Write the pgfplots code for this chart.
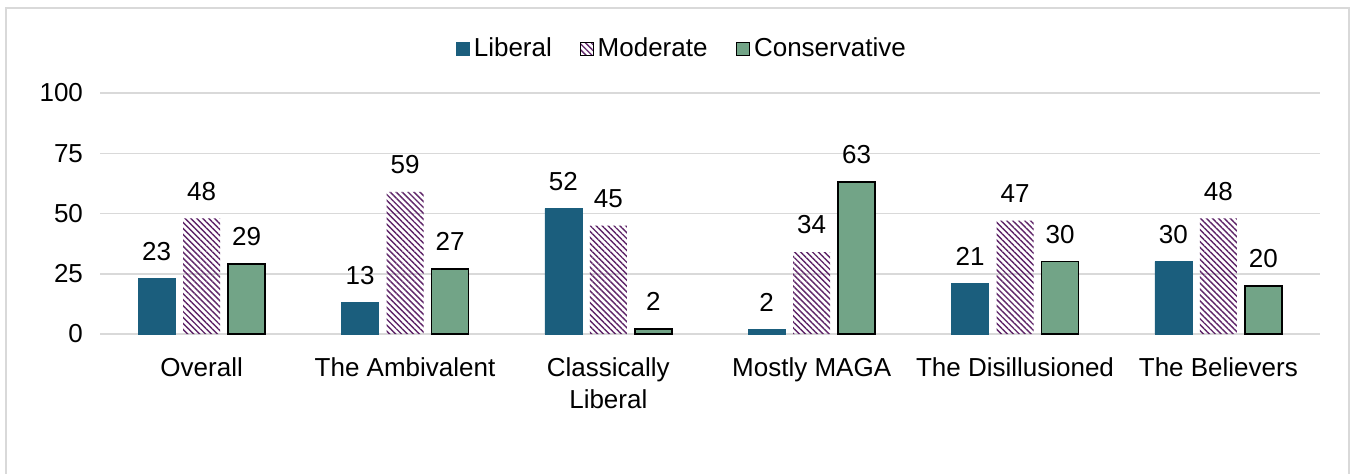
\documentclass[border=0pt]{standalone}
\usepackage{pgfplots}
\pgfplotsset{compat=1.18}
\usepackage{fontspec}
\setmainfont{Liberation Sans}
\usetikzlibrary{patterns.meta}
\definecolor{libc}{HTML}{1B5E7D}
\definecolor{modc}{HTML}{5E2468}
\definecolor{conc}{HTML}{72A487}
\definecolor{gridc}{HTML}{D9D9D9}
\begin{document}
\begin{tikzpicture}
\useasboundingbox (0,0) rectangle (676pt,-236.5pt);
\draw[gridc, line width=1pt] (3pt,-4pt) rectangle (674.5pt,-260pt);
\begin{axis}[
  at={(50pt,-167pt)}, anchor=south west,
  scale only axis, width=610pt, height=120.5pt,
  ybar,
  xmin=-0.5, xmax=5.5, ymin=0, ymax=100,
  ytick={0,25,50,75,100},
  xtick={0,1,2,3,4,5},
  xticklabels={Overall,The Ambivalent,{Classically\\Liberal},Mostly MAGA,The Disillusioned,The Believers},
  xticklabel style={align=center, yshift=-8.5pt, font=\fontsize{13}{16}\selectfont},
  yticklabel style={xshift=-5pt, font=\fontsize{13}{16}\selectfont},
  /pgf/number format/assume math mode=true,
  axis line style={draw=none},
  major tick length=0pt,
  ymajorgrids, major grid style={gridc, line width=0.75pt},
  bar width=18.5pt,
  nodes near coords,
  every node near coord/.append style={font=\fontsize{13}{16}\selectfont, black, anchor=south, yshift=5.5pt},
  legend columns=-1,
  legend style={at={(341.5pt-50pt,-24.5pt+167pt)}, anchor=center, draw=none, fill=none,
    font=\fontsize{13}{16}\selectfont,
    /tikz/every even column/.append style={column sep=12pt}},
  legend image code/.code={\draw[#1] (0pt,-3.2pt) rectangle (6.5pt,3.3pt);},
]
\addplot[bar shift=-22.5pt, fill=libc, draw=libc, line width=0.3pt] coordinates {(0,23) (1,13) (2,52) (3,2) (4,21) (5,30)};
\addplot[bar shift=0pt, draw=none, pattern={Lines[angle=-45,distance=2.1pt,line width=0.7pt]}, pattern color=modc] coordinates {(0,48) (1,59) (2,45) (3,34) (4,47) (5,48)};
\addplot[bar shift=22.5pt, fill=conc, draw=black, line width=0.75pt] coordinates {(0,29) (1,27) (2,2) (3,63) (4,30) (5,20)};
\legend{Liberal,Moderate,Conservative}
\end{axis}
\end{tikzpicture}
\end{document}
